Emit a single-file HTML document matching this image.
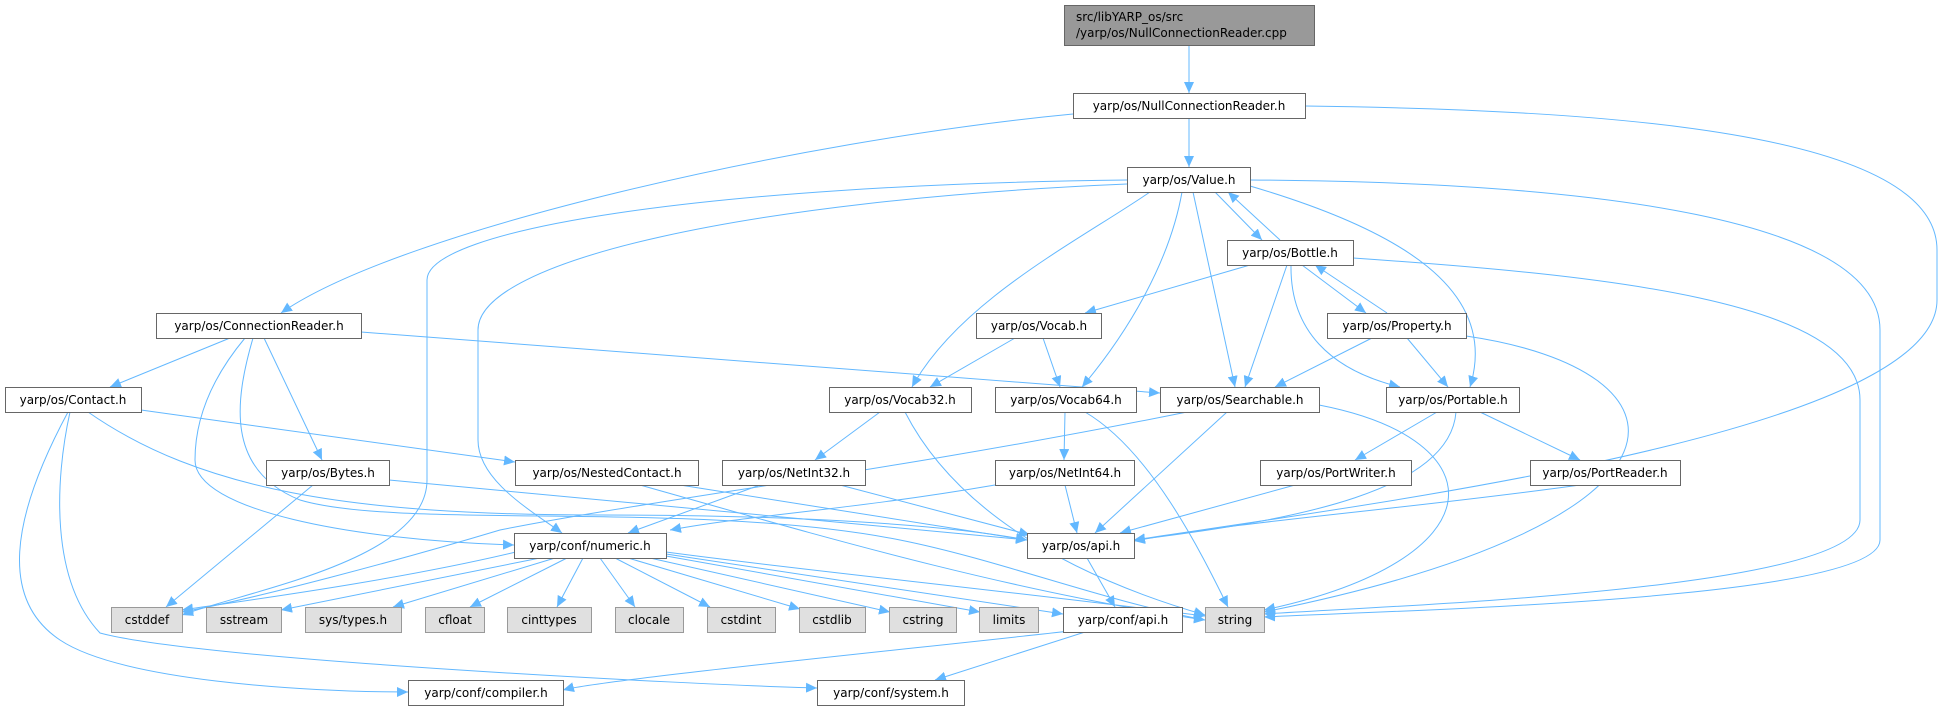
<!DOCTYPE html>
<html><head><meta charset="utf-8"><style>
html,body{margin:0;padding:0;background:#fff;}
svg{display:block;}
text{font-family:"DejaVu Sans","Liberation Sans",sans-serif;font-size:12px;fill:#000;}
.n{fill:#fff;stroke:#666;stroke-width:1;}
.g{fill:#e0e0e0;stroke:#999;stroke-width:1;}
.r{fill:#999;stroke:#666;stroke-width:1;}
.e{fill:none;stroke:#63b8ff;stroke-width:1;marker-end:url(#a);}
</style></head><body>
<svg width="1940" height="711" viewBox="0 0 1940 711" xmlns="http://www.w3.org/2000/svg">
<defs><marker id="a" markerUnits="userSpaceOnUse" markerWidth="12" markerHeight="10" refX="11" refY="5" orient="auto"><path d="M0,0 L11,5 L0,10 z" fill="#63b8ff"/></marker></defs>
<g>
<path class="e" d="M1189,45 L1189,93"/>
<path class="e" d="M1189,118 L1189,167"/>
<path class="e" d="M1073,114 C800,140 400,230 281,313"/>
<path class="e" d="M1305,106 C1600,110 1937,130 1937,250 L1937,300 C1937,430 1400,500 1134,540"/>
<path class="e" d="M1215,192 L1262,240"/>
<path class="e" d="M1280,240 L1228,192"/>
<path class="e" d="M1150,192 C1080,240 960,300 912,387"/>
<path class="e" d="M1182,192 C1170,260 1130,330 1082,387"/>
<path class="e" d="M1193,192 L1235,387"/>
<path class="e" d="M1250,186 C1400,230 1500,290 1470,387"/>
<path class="e" d="M1250,180 C1600,182 1880,220 1880,330 L1880,540 C1880,600 1400,610 1264,617"/>
<path class="e" d="M1127,180 C700,185 427,230 427,280 L427,480 C427,560 250,590 182,615"/>
<path class="e" d="M1127,184 C750,200 478,260 478,330 L478,440 C478,480 530,510 562,533"/>
<path class="e" d="M1250,265 L1085,313"/>
<path class="e" d="M1287,265 L1245,387"/>
<path class="e" d="M1291,265 C1290,330 1330,370 1400,387"/>
<path class="e" d="M1302,265 L1366,313"/>
<path class="e" d="M1387,313 L1315,265"/>
<path class="e" d="M1353,258 C1600,275 1860,300 1860,400 L1860,520 C1860,590 1400,605 1264,614"/>
<path class="e" d="M1015,338 L930,387"/>
<path class="e" d="M1043,338 L1060,387"/>
<path class="e" d="M1372,338 L1275,387"/>
<path class="e" d="M1407,338 L1448,387"/>
<path class="e" d="M1466,336 C1700,370 1720,520 1264,612"/>
<path class="e" d="M230,338 L110,387"/>
<path class="e" d="M264,338 L322,460"/>
<path class="e" d="M361,332 L1160,393"/>
<path class="e" d="M245,338 C210,380 195,420 195,460 C195,510 350,540 514,545"/>
<path class="e" d="M253,338 C235,400 225,470 300,500 C400,530 700,500 900,540 C1000,560 1100,600 1205,620"/>
<path class="e" d="M141,410 L515,462"/>
<path class="e" d="M68,412 C10,520 0,600 60,640 C120,680 300,692 408,692"/>
<path class="e" d="M70,412 C55,480 50,580 100,633 C200,660 700,685 817,688"/>
<path class="e" d="M88,412 C200,490 350,515 600,515 C800,515 950,525 1027,540"/>
<path class="e" d="M313,485 L166,607"/>
<path class="e" d="M389,480 L1027,540"/>
<path class="e" d="M680,485 L1027,540"/>
<path class="e" d="M640,485 C800,530 1000,590 1205,620"/>
<path class="e" d="M760,485 L628,533"/>
<path class="e" d="M840,485 L1030,535"/>
<path class="e" d="M995,485 C850,510 750,515 670,530"/>
<path class="e" d="M1065,485 L1077,533"/>
<path class="e" d="M880,412 L815,460"/>
<path class="e" d="M905,412 C950,500 1050,570 1205,615"/>
<path class="e" d="M1065,412 L1064,460"/>
<path class="e" d="M1085,412 C1150,450 1200,550 1228,607"/>
<path class="e" d="M1187,412 C900,470 650,500 500,530 C400,560 250,600 182,612"/>
<path class="e" d="M1227,412 L1095,533"/>
<path class="e" d="M1319,405 C1500,440 1500,560 1264,610"/>
<path class="e" d="M1437,412 L1355,460"/>
<path class="e" d="M1480,412 L1580,460"/>
<path class="e" d="M1456,412 C1450,490 1300,520 1134,540"/>
<path class="e" d="M1295,485 L1120,533"/>
<path class="e" d="M1580,485 C1400,510 1250,520 1134,541"/>
<path class="e" d="M1087,558 L1115,607"/>
<path class="e" d="M520,551 C400,580 250,600 182,610"/>
<path class="e" d="M540,558 L281,610"/>
<path class="e" d="M555,558 L393,607"/>
<path class="e" d="M567,558 L470,607"/>
<path class="e" d="M583,558 L557,607"/>
<path class="e" d="M600,558 L635,607"/>
<path class="e" d="M615,558 L710,607"/>
<path class="e" d="M628,558 L800,609"/>
<path class="e" d="M650,558 L890,612"/>
<path class="e" d="M666,556 L980,612"/>
<path class="e" d="M666,554 L1063,614"/>
<path class="e" d="M666,552 C800,570 1000,590 1205,616"/>
<path class="e" d="M1070,631 C900,650 600,680 563,690"/>
<path class="e" d="M1085,632 L935,680"/>
</g>
<g>
<rect class="r" x="1064.5" y="5.5" width="250" height="40"/>
<text x="1076" y="21">src/libYARP_os/src</text>
<text x="1076" y="37">/yarp/os/NullConnectionReader.cpp</text>
<rect class="n" x="1073.5" y="93.5" width="232" height="25"/><text x="1189" y="110" text-anchor="middle">yarp/os/NullConnectionReader.h</text>
<rect class="n" x="1127.5" y="167.5" width="123" height="25"/><text x="1189" y="184" text-anchor="middle">yarp/os/Value.h</text>
<rect class="n" x="1227.5" y="240.5" width="126" height="25"/><text x="1290" y="257" text-anchor="middle">yarp/os/Bottle.h</text>
<rect class="n" x="976.5" y="313.5" width="125" height="25"/><text x="1039" y="330" text-anchor="middle">yarp/os/Vocab.h</text>
<rect class="n" x="1327.5" y="313.5" width="139" height="25"/><text x="1397" y="330" text-anchor="middle">yarp/os/Property.h</text>
<rect class="n" x="156.5" y="313.5" width="205" height="25"/><text x="259" y="330" text-anchor="middle">yarp/os/ConnectionReader.h</text>
<rect class="n" x="5.5" y="387.5" width="136" height="25"/><text x="73" y="404" text-anchor="middle">yarp/os/Contact.h</text>
<rect class="n" x="829.5" y="387.5" width="142" height="25"/><text x="900" y="404" text-anchor="middle">yarp/os/Vocab32.h</text>
<rect class="n" x="995.5" y="387.5" width="141" height="25"/><text x="1066" y="404" text-anchor="middle">yarp/os/Vocab64.h</text>
<rect class="n" x="1160.5" y="387.5" width="159" height="25"/><text x="1240" y="404" text-anchor="middle">yarp/os/Searchable.h</text>
<rect class="n" x="1386.5" y="387.5" width="133" height="25"/><text x="1453" y="404" text-anchor="middle">yarp/os/Portable.h</text>
<rect class="n" x="266.5" y="460.5" width="123" height="25"/><text x="328" y="477" text-anchor="middle">yarp/os/Bytes.h</text>
<rect class="n" x="515.5" y="460.5" width="183" height="25"/><text x="607" y="477" text-anchor="middle">yarp/os/NestedContact.h</text>
<rect class="n" x="722.5" y="460.5" width="143" height="25"/><text x="794" y="477" text-anchor="middle">yarp/os/NetInt32.h</text>
<rect class="n" x="995.5" y="460.5" width="139" height="25"/><text x="1065" y="477" text-anchor="middle">yarp/os/NetInt64.h</text>
<rect class="n" x="1260.5" y="460.5" width="151" height="25"/><text x="1336" y="477" text-anchor="middle">yarp/os/PortWriter.h</text>
<rect class="n" x="1530.5" y="460.5" width="150" height="25"/><text x="1605" y="477" text-anchor="middle">yarp/os/PortReader.h</text>
<rect class="n" x="514.5" y="533.5" width="152" height="25"/><text x="590" y="550" text-anchor="middle">yarp/conf/numeric.h</text>
<rect class="n" x="1027.5" y="533.5" width="107" height="25"/><text x="1081" y="550" text-anchor="middle">yarp/os/api.h</text>
<rect class="g" x="111.5" y="607.5" width="71" height="25"/><text x="147" y="624" text-anchor="middle">cstddef</text>
<rect class="g" x="206.5" y="607.5" width="75" height="25"/><text x="244" y="624" text-anchor="middle">sstream</text>
<rect class="g" x="305.5" y="607.5" width="96" height="25"/><text x="353" y="624" text-anchor="middle">sys/types.h</text>
<rect class="g" x="425.5" y="607.5" width="59" height="25"/><text x="455" y="624" text-anchor="middle">cfloat</text>
<rect class="g" x="507.5" y="607.5" width="84" height="25"/><text x="549" y="624" text-anchor="middle">cinttypes</text>
<rect class="g" x="615.5" y="607.5" width="68" height="25"/><text x="649" y="624" text-anchor="middle">clocale</text>
<rect class="g" x="707.5" y="607.5" width="68" height="25"/><text x="741" y="624" text-anchor="middle">cstdint</text>
<rect class="g" x="799.5" y="607.5" width="66" height="25"/><text x="832" y="624" text-anchor="middle">cstdlib</text>
<rect class="g" x="889.5" y="607.5" width="67" height="25"/><text x="923" y="624" text-anchor="middle">cstring</text>
<rect class="g" x="979.5" y="607.5" width="59" height="25"/><text x="1009" y="624" text-anchor="middle">limits</text>
<rect class="n" x="1063.5" y="607.5" width="119" height="25"/><text x="1123" y="624" text-anchor="middle">yarp/conf/api.h</text>
<rect class="g" x="1205.5" y="607.5" width="59" height="25"/><text x="1235" y="624" text-anchor="middle">string</text>
<rect class="n" x="408.5" y="680.5" width="155" height="25"/><text x="486" y="697" text-anchor="middle">yarp/conf/compiler.h</text>
<rect class="n" x="817.5" y="680.5" width="147" height="25"/><text x="891" y="697" text-anchor="middle">yarp/conf/system.h</text>
</g>
</svg>
</body></html>
